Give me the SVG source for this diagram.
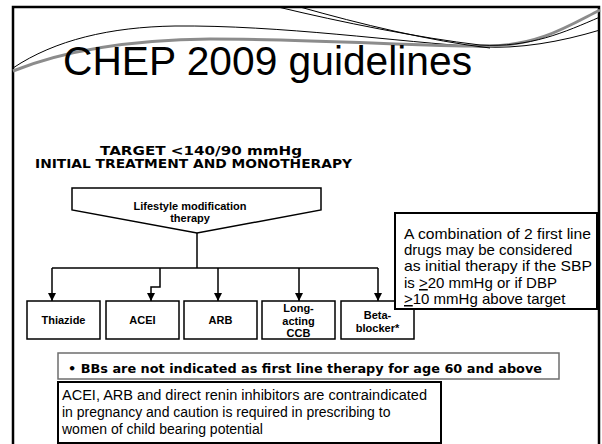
<svg xmlns="http://www.w3.org/2000/svg" width="602" height="444" viewBox="0 0 602 444">
<style>
.box{fill:#fff;stroke:#000;stroke-width:1.5}
.bt{font-family:"Liberation Sans",Arial,sans-serif;font-weight:bold;font-size:11px;text-anchor:middle;fill:#000}
.vt{font-family:"DejaVu Sans",Verdana,sans-serif;font-weight:bold;fill:#000}
.rt{font-family:"Liberation Sans",Arial,sans-serif;fill:#000}
.con{fill:none;stroke:#000;stroke-width:1.5}
.sw{fill:none;stroke:#000;stroke-width:1}
</style>
<defs>
<marker id="ah" markerUnits="userSpaceOnUse" markerWidth="9" markerHeight="9" refX="8" refY="4" orient="auto">
<path d="M0,0 L8,4 L0,8 Z" fill="#000"/>
</marker>
</defs>
<rect x="0" y="0" width="602" height="444" fill="#fff"/>
<rect x="13" y="7" width="586" height="450" fill="none" stroke="#000" stroke-width="2.5"/>
<g id="swooshes">
<path class="sw" d="M13,68 C55,40 110,27 175,26 C280,25 400,42 480,47 C520,49 560,42 600,30"/>
<path d="M13,71 C60,52 120,40 210,39 C320,39 430,47 490,46 C540,45 570,25 600,10" fill="none" stroke="#8c8c8c" stroke-width="3"/>
<path class="sw" d="M278,7 C340,22 420,38 480,45 C530,48 565,32 600,17"/>
<path class="sw" d="M300,7 C360,24 430,41 490,48"/>
</g>
<text id="title" x="63" y="75" class="rt" font-size="40" textLength="409" lengthAdjust="spacingAndGlyphs">CHEP 2009 guidelines</text>
<text x="100" y="155" class="vt" font-size="12" textLength="202" lengthAdjust="spacingAndGlyphs">TARGET &lt;140/90 mmHg</text>
<text x="35" y="168" class="vt" font-size="12" textLength="317" lengthAdjust="spacingAndGlyphs">INITIAL TREATMENT AND MONOTHERAPY</text>
<g id="connectors">
<path class="con" d="M197,233 V268"/>
<path class="con" d="M52,268 H378"/>
<path class="con" d="M52,268 V301" marker-end="url(#ah)"/>
<path class="con" d="M160,268 V287 H151 V301" marker-end="url(#ah)"/>
<path class="con" d="M218,268 V301" marker-end="url(#ah)"/>
<path class="con" d="M299,268 V301" marker-end="url(#ah)"/>
<path class="con" d="M378,268 V301" marker-end="url(#ah)"/>
</g>
<g id="lifestyle">
<path class="box" d="M72,188 H321 V210 L197,233 L72,210 Z"/>
<text class="bt" x="190" y="210" font-size="10.5">Lifestyle modification</text>
<text class="bt" x="190" y="222" font-size="10.5">therapy</text>
</g>
<g id="thiazide">
<rect class="box" x="27" y="301" width="73" height="38"/>
<text class="bt" x="63.5" y="324">Thiazide</text>
</g>
<g id="acei">
<rect class="box" x="106" y="301" width="73" height="38"/>
<text class="bt" x="142.5" y="324">ACEI</text>
</g>
<g id="arb">
<rect class="box" x="184" y="301" width="73" height="38"/>
<text class="bt" x="220.5" y="324">ARB</text>
</g>
<g id="ccb">
<rect class="box" x="262" y="301" width="73" height="38"/>
<text class="bt" x="298.5" y="312">Long-</text>
<text class="bt" x="298.5" y="324.5">acting</text>
<text class="bt" x="298.5" y="337">CCB</text>
</g>
<g id="beta">
<rect class="box" x="341" y="301" width="73" height="38"/>
<text class="bt" x="377.5" y="319">Beta-</text>
<text class="bt" x="377.5" y="332">blocker*</text>
</g>
<g id="note">
<rect x="395" y="213" width="202" height="96" fill="#fff" stroke="#000" stroke-width="2"/>
<text class="rt" font-size="15" x="404" y="239" textLength="187" lengthAdjust="spacingAndGlyphs">A combination of 2 first line</text>
<text class="rt" font-size="15" x="404" y="255">drugs may be considered</text>
<text class="rt" font-size="15" x="404" y="271" textLength="188" lengthAdjust="spacingAndGlyphs">as initial therapy if the SBP</text>
<text class="rt" font-size="15" x="404" y="288">is <tspan text-decoration="underline">&gt;</tspan>20 mmHg or if DBP</text>
<text class="rt" font-size="15" x="404" y="304"><tspan text-decoration="underline">&gt;</tspan>10 mmHg above target</text>
</g>
<g id="bbs">
<rect x="58" y="353" width="501" height="26" fill="#fff" stroke="#6e6e6e" stroke-width="1.5"/>
<text class="vt" font-size="13" x="68" y="373" textLength="474" lengthAdjust="spacingAndGlyphs">• BBs are not indicated as first line therapy for age 60 and above</text>
</g>
<g id="pregnancy">
<rect x="58" y="382" width="383" height="61" fill="#fff" stroke="#000" stroke-width="2"/>
<text class="rt" font-size="14" x="62" y="400" textLength="365" lengthAdjust="spacingAndGlyphs">ACEI, ARB and direct renin inhibitors are contraindicated</text>
<text class="rt" font-size="14" x="62" y="417">in pregnancy and caution is required in prescribing to</text>
<text class="rt" font-size="14" x="62" y="434">women of child bearing potential</text>
</g>
</svg>
